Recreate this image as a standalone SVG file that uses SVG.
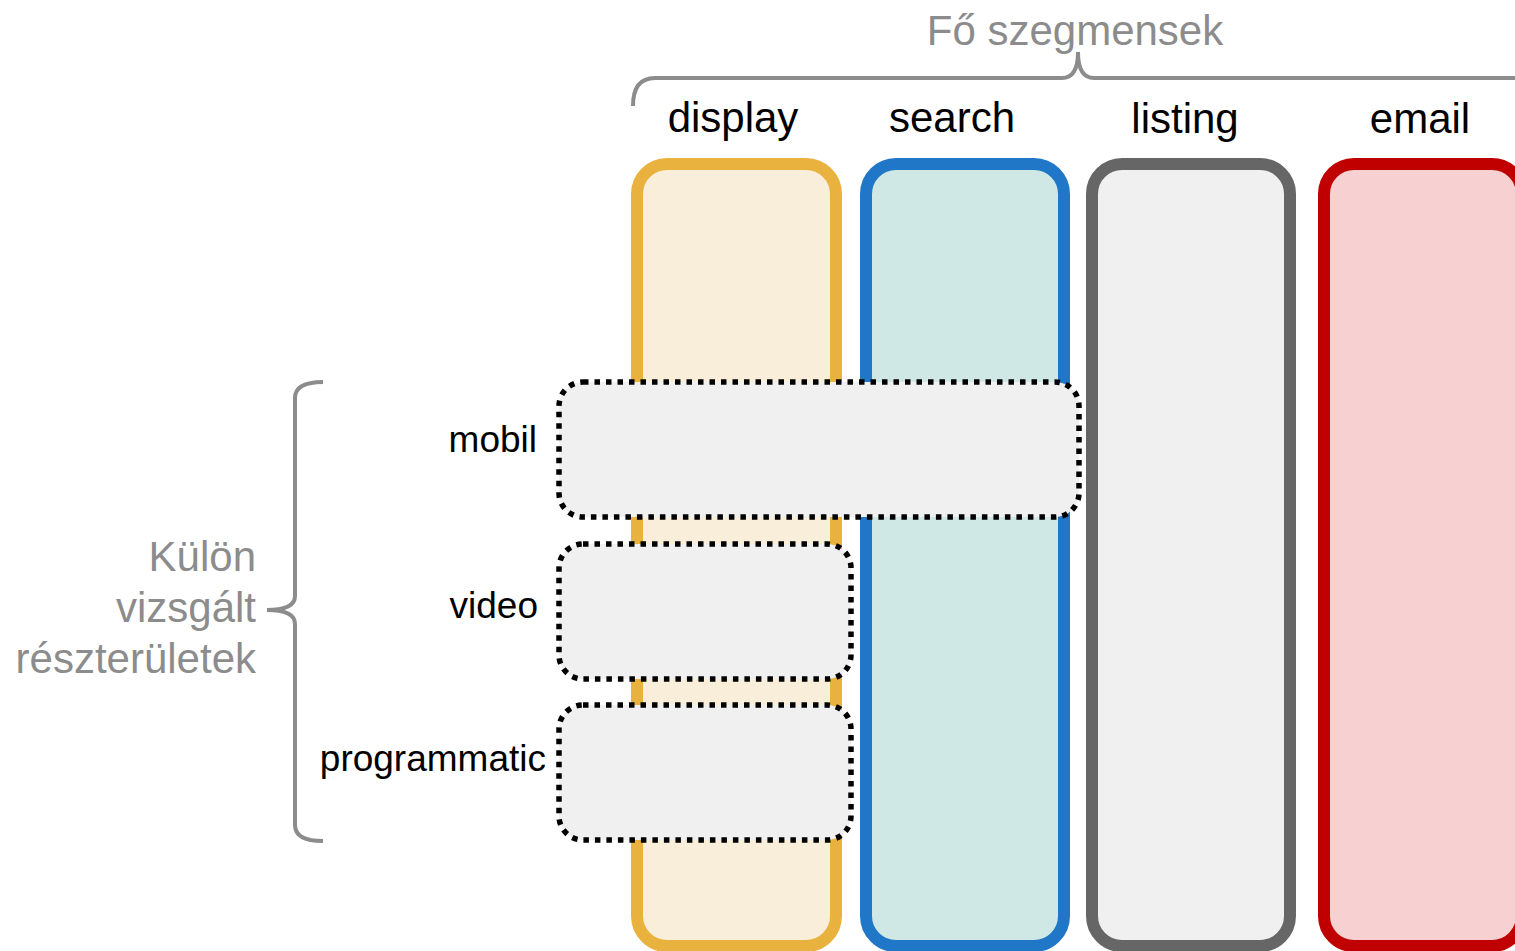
<svg xmlns="http://www.w3.org/2000/svg" width="1515" height="951" viewBox="0 0 1515 951">
<style>
.lbl{font-family:"Liberation Sans",Arial,sans-serif;font-size:42px;fill:#000}
.gry{font-family:"Liberation Sans",Arial,sans-serif;font-size:42px;fill:#8C8C8C}
.sub{font-family:"Liberation Sans",Arial,sans-serif;font-size:37px;fill:#000}
.col{stroke-width:12}
.dot{fill:#F0F0F0;stroke:#000;stroke-width:5.5;stroke-dasharray:5.5 6}
.brace{fill:none;stroke:#8C8C8C;stroke-width:4}
</style>
<rect width="1515" height="951" fill="#fff"/>
<g id="display">
<rect class="col" x="637" y="164" width="199" height="782" rx="30" fill="#F9EED9" stroke="#E9B23F"/>
<text class="lbl" x="733" y="132" text-anchor="middle">display</text>
</g>
<g id="search">
<rect class="col" x="866" y="164" width="198" height="782" rx="30" fill="#D0E8E5" stroke="#2077C7"/>
<text class="lbl" x="952" y="132" text-anchor="middle">search</text>
</g>
<g id="listing">
<rect class="col" x="1092" y="164" width="198" height="782" rx="30" fill="#F0F0F0" stroke="#666666"/>
<text class="lbl" x="1185" y="133" text-anchor="middle">listing</text>
</g>
<g id="email">
<rect class="col" x="1324" y="164" width="198" height="782" rx="30" fill="#F7D1D1" stroke="#C00000"/>
<text class="lbl" x="1420" y="133" text-anchor="middle">email</text>
</g>
<g id="fo-szegmensek">
<path class="brace" d="M633,106 Q633,78 655,78 L1062,78 Q1078,78 1078,52 Q1078,78 1094,78 L1520,78"/>
<text class="gry" x="1075" y="45" text-anchor="middle">Fő szegmensek</text>
</g>
<g id="mobil">
<rect class="dot" x="559" y="382" width="520" height="135" rx="24"/>
<text class="sub" x="537" y="452" text-anchor="end">mobil</text>
</g>
<g id="video">
<rect class="dot" x="559" y="544" width="292" height="135" rx="24"/>
<text class="sub" x="538" y="618" text-anchor="end">video</text>
</g>
<g id="programmatic">
<rect class="dot" x="559" y="705" width="292" height="135" rx="24"/>
<text class="sub" x="546" y="771" text-anchor="end">programmatic</text>
</g>
<g id="kulon">
<path class="brace" d="M323,382 Q295,382 295,398 L295,596 Q295,610 267,610 Q295,610 295,624 L295,825 Q295,841 323,841"/>
<text class="gry" text-anchor="end"><tspan x="256" y="571">Külön</tspan><tspan x="256" y="622">vizsgált</tspan><tspan x="256" y="673">részterületek</tspan></text>
</g>
<g id="connectors"></g>
</svg>
